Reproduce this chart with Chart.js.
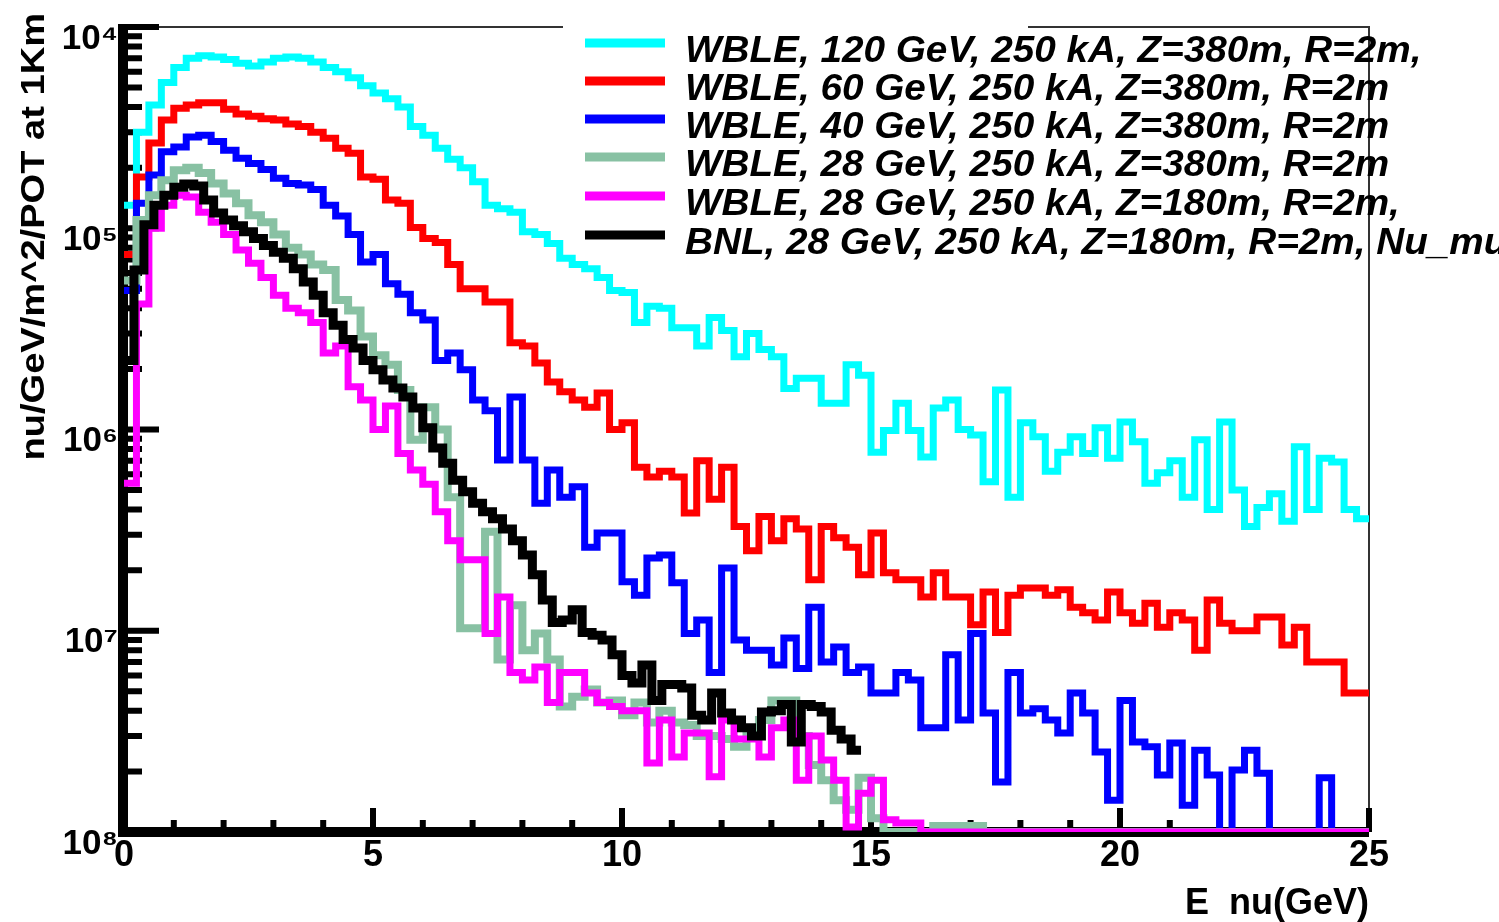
<!DOCTYPE html>
<html>
<head>
<meta charset="utf-8">
<script src="https://cdn.jsdelivr.net/npm/chart.js@4.4.1/dist/chart.umd.min.js"></script>
<style>
  html, body { margin: 0; padding: 0; background: #fff; }
  #graficoFluxo { display: block; }
</style>
</head>
<body>
<canvas id="graficoFluxo" width="1499" height="922"></canvas>
<script>
// largura dos bins (GeV)
const larguraBinWble = 0.25;
const larguraBinBnl = 0.2;

const xTicks = [0, 5, 10, 15, 20, 25];
const yTicks = [1e-8, 1e-7, 1e-6, 1e-5, 1e-4];
const yTickLabels = ['10⁸', '10⁷', '10⁶', '10⁵', '10⁴'];

const rotulosSeries = [
  'WBLE, 120 GeV, 250 kA, Z=380m, R=2m,',
  'WBLE, 60 GeV, 250 kA, Z=380m, R=2m',
  'WBLE, 40 GeV, 250 kA, Z=380m, R=2m',
  'WBLE, 28 GeV, 250 kA, Z=380m, R=2m',
  'WBLE, 28 GeV, 250 kA, Z=180m, R=2m,',
  'BNL, 28 GeV, 250 kA, Z=180m, R=2m, Nu_mu'
];

const fluxo120 = [
  1.3e-5, 3.0e-5, 4.1e-5, 5.3e-5, 6.3e-5, 7.0e-5, 7.2e-5, 7.1e-5, 6.9e-5, 6.6e-5,
  6.4e-5, 6.7e-5, 7.0e-5, 7.1e-5, 7.0e-5, 6.7e-5, 6.3e-5, 6.0e-5, 5.6e-5, 5.1e-5,
  4.7e-5, 4.4e-5, 4.0e-5, 3.2e-5, 2.9e-5, 2.5e-5, 2.2e-5, 2.0e-5, 1.7e-5, 1.3e-5,
  1.25e-5, 1.2e-5, 9.6e-6, 9.3e-6, 8.4e-6, 7.1e-6, 6.6e-6, 6.3e-6, 5.7e-6, 4.9e-6,
  4.8e-6, 3.4e-6, 4.1e-6, 4.0e-6, 3.2e-6, 3.2e-6, 2.6e-6, 3.6e-6, 3.1e-6, 2.3e-6,
  3.0e-6, 2.5e-6, 2.3e-6, 1.6e-6, 1.8e-6, 1.8e-6, 1.35e-6, 1.35e-6, 2.1e-6, 1.86e-6,
  7.7e-7, 9.9e-7, 1.35e-6, 9.9e-7, 7.3e-7, 1.28e-6, 1.4e-6, 1.0e-6, 9.4e-7, 5.5e-7,
  1.57e-6, 4.6e-7, 1.08e-6, 9.2e-7, 6.2e-7, 7.7e-7, 9.2e-7, 7.6e-7, 1.02e-6, 7.2e-7,
  1.09e-6, 8.7e-7, 5.4e-7, 6.1e-7, 7.0e-7, 4.6e-7, 8.9e-7, 4.0e-7, 1.09e-6, 5.0e-7,
  3.3e-7, 4.1e-7, 4.8e-7, 3.5e-7, 8.2e-7, 4.0e-7, 7.2e-7, 6.9e-7, 4.0e-7, 3.6e-7
];

const fluxo60 = [
  7.4e-6, 1.8e-5, 2.65e-5, 3.45e-5, 3.95e-5, 4.1e-5, 4.2e-5, 4.2e-5, 3.9e-5, 3.7e-5,
  3.6e-5, 3.5e-5, 3.45e-5, 3.3e-5, 3.2e-5, 3.0e-5, 2.8e-5, 2.5e-5, 2.36e-5, 1.8e-5,
  1.75e-5, 1.38e-5, 1.33e-5, 1.01e-5, 8.9e-6, 8.5e-6, 6.6e-6, 5.0e-6, 5.0e-6, 4.3e-6,
  4.3e-6, 2.7e-6, 2.6e-6, 2.14e-6, 1.72e-6, 1.54e-6, 1.4e-6, 1.29e-6, 1.52e-6, 1.0e-6,
  1.08e-6, 6.5e-7, 5.8e-7, 6.2e-7, 5.8e-7, 3.85e-7, 7.0e-7, 4.5e-7, 6.5e-7, 3.3e-7,
  2.5e-7, 3.7e-7, 2.8e-7, 3.6e-7, 3.2e-7, 1.79e-7, 3.3e-7, 2.9e-7, 2.6e-7, 1.9e-7,
  3.06e-7, 1.94e-7, 1.79e-7, 1.79e-7, 1.47e-7, 1.94e-7, 1.47e-7, 1.47e-7, 1.07e-7, 1.56e-7,
  9.8e-8, 1.5e-7, 1.63e-7, 1.63e-7, 1.5e-7, 1.6e-7, 1.31e-7, 1.23e-7, 1.13e-7, 1.56e-7,
  1.23e-7, 1.09e-7, 1.37e-7, 1.04e-7, 1.23e-7, 1.13e-7, 8.0e-8, 1.42e-7, 1.09e-7, 1.0e-7,
  1.0e-7, 1.17e-7, 1.17e-7, 8.5e-8, 1.04e-7, 7.0e-8, 7.0e-8, 7.0e-8, 4.9e-8, 4.9e-8
];

const fluxo40 = [
  4.9e-6, 1.33e-5, 1.84e-5, 2.4e-5, 2.53e-5, 2.84e-5, 2.9e-5, 2.7e-5, 2.44e-5, 2.23e-5,
  2.1e-5, 1.96e-5, 1.77e-5, 1.67e-5, 1.64e-5, 1.56e-5, 1.3e-5, 1.15e-5, 9.3e-6, 6.8e-6,
  7.4e-6, 5.3e-6, 4.7e-6, 3.8e-6, 3.5e-6, 2.2e-6, 2.4e-6, 1.98e-6, 1.4e-6, 1.24e-6,
  7.05e-7, 1.45e-6, 7.05e-7, 4.3e-7, 6.3e-7, 4.6e-7, 5.2e-7, 2.6e-7, 3.06e-7, 3.06e-7,
  1.75e-7, 1.5e-7, 2.3e-7, 2.38e-7, 1.73e-7, 9.7e-8, 1.13e-7, 6.2e-8, 2.05e-7, 9.0e-8,
  8.0e-8, 8.0e-8, 6.75e-8, 9.2e-8, 6.5e-8, 1.31e-7, 7.0e-8, 8.3e-8, 6.2e-8, 6.6e-8,
  4.9e-8, 4.9e-8, 6.2e-8, 5.7e-8, 3.3e-8, 3.3e-8, 7.6e-8, 3.6e-8, 9.7e-8, 3.9e-8,
  1.77e-8, 6.2e-8, 3.9e-8, 4.1e-8, 3.6e-8, 3.1e-8, 4.9e-8, 3.9e-8, 2.5e-8, 1.44e-8,
  4.5e-8, 2.8e-8, 2.65e-8, 1.92e-8, 2.77e-8, 1.36e-8, 2.55e-8, 1.92e-8, 0, 2.03e-8,
  2.55e-8, 1.96e-8, 0, 0, 0, 0, 1.86e-8, 0, 0, 0
];

const fluxo28z380 = [
  5.5e-6, 1.1e-5, 1.46e-5, 1.73e-5, 1.94e-5, 2.0e-5, 1.88e-5, 1.67e-5, 1.49e-5, 1.33e-5,
  1.16e-5, 1.07e-5, 9.3e-6, 8.0e-6, 7.4e-6, 6.6e-6, 6.2e-6, 4.4e-6, 3.9e-6, 2.9e-6,
  2.34e-6, 2.1e-6, 1.57e-6, 8.9e-7, 1.29e-6, 1.0e-6, 4.6e-7, 1.03e-7, 1.03e-7, 3.1e-7,
  7.2e-8, 1.34e-7, 8.0e-8, 9.7e-8, 7.2e-8, 4.2e-8, 4.7e-8, 5.1e-8, 4.4e-8, 4.5e-8,
  3.8e-8, 4.4e-8, 3.5e-8, 4.0e-8, 3.5e-8, 3.4e-8, 3.0e-8, 3.0e-8, 2.9e-8, 2.65e-8,
  3.0e-8, 3.6e-8, 4.5e-8, 4.5e-8, 3.0e-8, 2.15e-8, 1.81e-8, 1.44e-8, 1.29e-8, 1.86e-8,
  1.17e-8, 0, 0, 0, 0, 1.07e-8, 1.07e-8, 1.07e-8, 1.07e-8, 0,
  0, 0, 0, 0, 0, 0, 0, 0, 0, 0,
  0, 0, 0, 0, 0, 0, 0, 0, 0, 0,
  0, 0, 0, 0, 0, 0, 0, 0, 0, 0
];

const fluxo28z180 = [
  5.4e-7, 4.2e-6, 1.0e-5, 1.3e-5, 1.46e-5, 1.43e-5, 1.2e-5, 1.07e-5, 9.3e-6, 7.8e-6,
  6.7e-6, 5.7e-6, 4.65e-6, 4.0e-6, 3.8e-6, 3.4e-6, 2.4e-6, 2.6e-6, 1.63e-6, 1.4e-6,
  1.0e-6, 1.31e-6, 7.6e-7, 6.3e-7, 5.35e-7, 3.9e-7, 2.8e-7, 2.25e-7, 2.25e-7, 9.7e-8,
  1.47e-7, 6.2e-8, 5.7e-8, 6.6e-8, 4.4e-8, 6.2e-8, 6.2e-8, 4.9e-8, 4.4e-8, 4.2e-8,
  4.0e-8, 4.0e-8, 2.2e-8, 3.6e-8, 2.36e-8, 3.1e-8, 3.1e-8, 1.88e-8, 3.6e-8, 2.9e-8,
  2.9e-8, 2.36e-8, 3.3e-8, 3.6e-8, 1.81e-8, 3.0e-8, 2.28e-8, 1.81e-8, 1.06e-8, 1.56e-8,
  1.81e-8, 1.15e-8, 1.11e-8, 1.11e-8, 0, 0, 0, 0, 0, 0,
  0, 0, 0, 0, 0, 0, 0, 0, 0, 0,
  0, 0, 0, 0, 0, 0, 0, 0, 0, 0,
  0, 0, 0, 0, 0, 0, 0, 0, 0, 0
];

const fluxoBnl = [
  2.2e-6, 6.2e-6, 1.04e-5, 1.3e-5, 1.46e-5, 1.6e-5, 1.66e-5, 1.62e-5, 1.38e-5, 1.19e-5,
  1.1e-5, 1.03e-5, 9.6e-6, 8.9e-6, 8.2e-6, 7.6e-6, 7.1e-6, 6.3e-6, 5.4e-6, 4.65e-6,
  3.8e-6, 3.3e-6, 2.8e-6, 2.54e-6, 2.2e-6, 1.98e-6, 1.76e-6, 1.61e-6, 1.45e-6, 1.28e-6,
  1.02e-6, 8.1e-7, 6.8e-7, 5.6e-7, 4.9e-7, 4.3e-7, 3.9e-7, 3.6e-7, 3.2e-7, 2.8e-7,
  2.38e-7, 1.9e-7, 1.42e-7, 1.1e-7, 1.13e-7, 1.27e-7, 9.8e-8, 9.5e-8, 9.0e-8, 7.6e-8,
  6.0e-8, 5.5e-8, 6.75e-8, 4.5e-8, 5.4e-8, 5.4e-8, 5.2e-8, 3.8e-8, 3.6e-8, 4.9e-8,
  3.9e-8, 3.6e-8, 3.3e-8, 3.0e-8, 3.95e-8, 4.0e-8, 4.3e-8, 2.8e-8, 4.3e-8, 4.2e-8,
  3.95e-8, 3.2e-8, 2.9e-8, 2.55e-8
];

const Y_MIN = 1e-8;
const Y_MAX = 1e-4;
const FONTE = '"Liberation Sans", Arial, sans-serif';

// bins vazios ficam no chao do eixo, como no ROOT
function pontosHistograma(valores, largura) {
  const pontos = valores.map((v, i) => ({ x: i * largura, y: v > 0 ? v : Y_MIN }));
  const ultimo = valores[valores.length - 1];
  pontos.push({ x: valores.length * largura, y: ultimo > 0 ? ultimo : Y_MIN });
  return pontos;
}

function serie(indice, valores, largura, cor, espessura, ordem) {
  return {
    label: rotulosSeries[indice],
    data: pontosHistograma(valores, largura),
    borderColor: cor,
    borderWidth: espessura,
    stepped: 'before',
    pointRadius: 0,
    fill: false,
    tension: 0,
    borderJoinStyle: 'miter',
    borderCapStyle: 'butt',
    order: ordem
  };
}

const molduraRoot = {
  id: 'molduraRoot',
  beforeDatasetsDraw(chart) {
    const { ctx, chartArea: a, scales: { x, y } } = chart;
    ctx.save();
    ctx.lineCap = 'butt';

    // moldura fina (topo interrompido pela legenda)
    ctx.strokeStyle = '#333';
    ctx.lineWidth = 2;
    ctx.beginPath();
    ctx.moveTo(a.left, a.top);
    ctx.lineTo(563, a.top);
    ctx.moveTo(1028, a.top);
    ctx.lineTo(a.right, a.top);
    ctx.lineTo(a.right, a.bottom);
    ctx.stroke();

    ctx.strokeStyle = '#000';
    ctx.lineWidth = 6;
    ctx.beginPath();
    for (let v = 0; v <= 25; v++) {
      const px = x.getPixelForValue(v);
      const h = xTicks.includes(v) ? 24 : 12;
      ctx.moveTo(px, a.bottom);
      ctx.lineTo(px, a.bottom - h);
    }
    for (let e = -8; e < -4; e++) {
      for (let m = 1; m <= 9; m++) {
        const py = y.getPixelForValue(m * Math.pow(10, e));
        const w = m === 1 ? 35 : 18;
        ctx.moveTo(a.left, py);
        ctx.lineTo(a.left + w, py);
      }
    }
    const pTopo = y.getPixelForValue(Y_MAX);
    ctx.moveTo(a.left, pTopo);
    ctx.lineTo(a.left + 35, pTopo);
    ctx.stroke();

    // eixos grossos
    ctx.lineWidth = 10;
    ctx.beginPath();
    ctx.moveTo(a.left - 1, a.top - 3);
    ctx.lineTo(a.left - 1, a.bottom + 5);
    ctx.moveTo(a.left - 6, a.bottom);
    ctx.lineTo(a.right, a.bottom);
    ctx.stroke();
    ctx.restore();
  },
  afterDraw(chart) {
    const { ctx } = chart;
    ctx.save();
    // titulo do eixo y
    ctx.translate(35, 13);
    ctx.rotate(-Math.PI / 2);
    ctx.scale(1.12, 1);
    ctx.font = 'bold 34px ' + FONTE;
    ctx.fillStyle = '#000';
    ctx.textAlign = 'right';
    ctx.textBaseline = 'middle';
    ctx.fillText('nu/GeV/m^2/POT at 1Km', 0, 0);
    ctx.restore();

    // legenda
    const linhasY = [43, 81, 119, 157, 196, 235];
    chart.data.datasets.forEach((ds, i) => {
      ctx.save();
      ctx.strokeStyle = ds.borderColor;
      ctx.lineWidth = 9;
      ctx.beginPath();
      ctx.moveTo(585, linhasY[i]);
      ctx.lineTo(665, linhasY[i]);
      ctx.stroke();
      ctx.translate(685, linhasY[i] + 19);
      ctx.scale(1.075, 1);
      ctx.font = 'italic bold 36px ' + FONTE;
      ctx.textAlign = 'left';
      ctx.textBaseline = 'alphabetic';
      ctx.fillStyle = '#000';
      ctx.fillText(ds.label, 0, 0);
      ctx.restore();
    });
  }
};

window.onload = function () {
  const canvas = document.getElementById('graficoFluxo');

  new Chart(canvas, {
    type: 'line',
    data: {
      datasets: [
        serie(0, fluxo120, larguraBinWble, '#00ffff', 7, 5),
        serie(1, fluxo60, larguraBinWble, '#ff0000', 7, 4),
        serie(2, fluxo40, larguraBinWble, '#0000ff', 7, 3),
        serie(3, fluxo28z380, larguraBinWble, '#88c1a3', 8, 2),
        serie(4, fluxo28z180, larguraBinWble, '#ff00ff', 7, 1),
        serie(5, fluxoBnl, larguraBinBnl, '#000000', 9, 0)
      ]
    },
    options: {
      responsive: false,
      animation: false,
      devicePixelRatio: 1,
      layout: { padding: { left: 0, top: 27, right: 130, bottom: 0 } },
      plugins: {
        legend: { display: false },
        tooltip: { enabled: false }
      },
      scales: {
        x: {
          type: 'linear',
          min: 0,
          max: 25,
          grid: { display: false, drawTicks: false },
          border: { display: false },
          afterBuildTicks: (s) => { s.ticks = xTicks.map((v) => ({ value: v })); },
          afterFit: (s) => { s.height = 90; },
          ticks: {
            autoSkip: false,
            maxRotation: 0,
            padding: 2,
            color: '#000',
            font: { family: FONTE, size: 36, weight: 'bold' }
          },
          title: {
            display: true,
            text: 'E  nu(GeV)',
            align: 'end',
            color: '#000',
            padding: 0,
            font: { family: FONTE, size: 36, weight: 'bold', lineHeight: 1 }
          }
        },
        y: {
          type: 'logarithmic',
          min: Y_MIN,
          max: Y_MAX,
          grid: { display: false, drawTicks: false },
          border: { display: false },
          afterBuildTicks: (s) => { s.ticks = yTicks.map((v) => ({ value: v })); },
          afterFit: (s) => { s.width = 124; },
          ticks: {
            autoSkip: false,
            padding: 6,
            labelOffset: 12,
            color: '#000',
            font: { family: FONTE, size: 35, weight: 'bold' },
            callback: (v, i) => yTickLabels[i]
          }
        }
      }
    },
    plugins: [molduraRoot]
  });
};
</script>
</body>
</html>
